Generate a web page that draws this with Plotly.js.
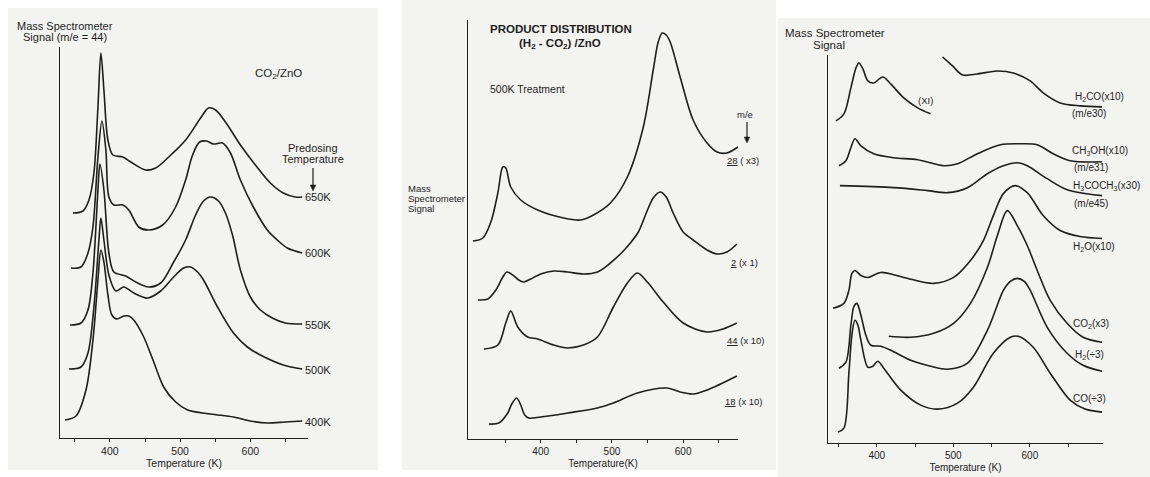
<!DOCTYPE html>
<html>
<head>
<meta charset="utf-8">
<script src="https://cdn.plot.ly/plotly-3.0.1.min.js"></script>
<style>html,body{margin:0;padding:0;background:#fff;}#chart{width:1150px;height:477px;}</style>
</head>
<body>
<div id="chart"></div>
<script>
// ---------- Panel 1: CO2/ZnO, m/e = 44, predosing temperatures ----------
const p1_T_650 = [347.5,361.7,370.2,377.3,383.0,387.2,391.5,397.2,404.3,418.4,429.8,451.1,465.2,483.7,507.8,529.1,540.4,550.4,564.5,585.8,607.1,628.4,646.8,663.8,673.8];
const p1_S_650 = [225,227,238,265,331,385,348,298,283,281,276,268,270,281,298,320,330,328,316,293,273,255,245,241,241];
const p1_T_600 = [344.7,358.9,368.8,375.9,383.0,388.7,394.3,398.6,405.7,418.4,426.9,441.1,455.3,475.2,493.6,507.8,517.7,527.7,537.6,547.5,560.3,571.6,585.8,604.2,624.1,638.3,652.5,673.8];
const p1_S_600 = [170,171,185,211,281,317,288,241,233,233,228,211,208,213,231,258,283,296,297,294,295,285,258,231,208,198,190,185];
const p1_T_550 = [343.3,358.9,368.8,375.9,383.0,385.8,391.5,398.6,405.7,422.7,436.9,455.3,472.3,490.8,507.8,522.0,533.3,543.3,554.6,564.5,574.5,585.8,600.0,614.2,631.2,649.6,673.8];
const p1_S_550 = [113,115,128,165,248,274,248,185,166,162,156,151,155,176,198,223,237,241,237,225,203,168,141,128,120,115,114];
const p1_T_500 = [341.8,358.9,368.8,377.3,384.4,387.2,391.5,398.6,408.5,419.9,434.0,453.9,472.3,490.8,505.0,514.9,524.8,533.3,553.2,575.9,595.7,614.2,646.8,673.8];
const p1_S_500 = [69,71,85,131,198,220,198,163,147,151,145,140,147,161,170,171,166,158,131,105,91,83,73,69];
const p1_T_400 = [336.2,351.8,366.0,375.9,383.0,387.2,391.5,397.2,402.8,409.9,419.9,426.9,434.0,448.2,462.4,476.6,493.6,510.6,543.3,575.9,600.0,624.1,649.6,673.8];
const p1_S_400 = [18,22,48,98,158,188,176,143,123,119,122,122,118,101,76,51,36,28,24,21,17,15,16,17];
const p1_labels = ['650K','600K','550K','500K','400K'];

// ---------- Panel 2: product distribution (H2-CO2)/ZnO ----------
const p2_T_28 = [304.9,318.9,330.1,339.9,346.9,351.0,358.0,372.0,395.8,432.2,455.9,474.1,497.9,521.7,544.1,558.0,565.0,570.6,576.2,581.8,595.8,614.0,633.6,647.6,661.5,676.9];
const p2_S_28 = [198,201,217,246,272,271,252,239,229,221,219,224,236,262,312,369,397,406,404,397,362,319,296,287,286,292];
const p2_T_2 = [311.9,325.9,337.1,346.9,352.4,360.8,369.2,376.2,386.0,400.0,418.2,437.8,460.1,479.7,497.9,514.7,525.9,537.1,548.3,558.0,567.8,576.2,586.0,600.0,614.0,633.6,647.6,661.5,675.5];
const p2_S_2 = [139,140,149,162,167,164,159,157,160,165,168,167,165,167,176,187,196,207,226,241,247,242,226,207,199,189,185,187,195];
const p2_T_44 = [320.3,339.9,351.0,358.0,367.8,381.8,395.8,418.2,437.8,460.1,479.7,502.1,521.7,535.7,549.7,572.0,600.0,633.6,655.9,675.5];
const p2_S_44 = [90,94,116,128,112,102,100,94,91,94,102,132,156,166,157,137,116,107,110,116];
const p2_T_18 = [327.3,341.3,353.8,359.4,366.4,372.0,377.6,383.2,400.0,437.8,479.7,502.1,535.7,577.6,595.8,614.0,633.6,675.5];
const p2_S_18 = [15,16,26,35,41,34,24,21,22,26,31,36,46,51,47,45,49,63];

// ---------- Panel 3: individual products ----------
const p3_T_H2COa = [346.6,357.0,366.1,372.7,376.6,381.8,388.3,396.1,407.8,418.2,435.2,453.4,470.3];
const p3_S_H2COa = [323,330,356,376,381,375,363,361,367,360,346,336,330];
const p3_T_H2COb = [485.9,499.0,512.0,531.5,557.6,578.4,600.5,617.4,639.6,665.6,694.3];
const p3_S_H2COb = [387,378,369,370,373,371,363,351,341,338,337];
const p3_T_CH3OH = [350.5,359.6,366.1,371.4,379.2,396.1,422.1,453.4,487.2,505.5,531.5,561.5,587.5,609.6,630.5,652.6,694.3];
const p3_S_CH3OH = [278,283,296,305,298,290,286,284,278,280,290,299,300,299,290,283,282];
const p3_T_DME = [351.8,422.1,466.4,492.4,518.5,544.5,565.4,583.6,596.6,622.7,648.7,694.3];
const p3_S_DME = [258,256,253,251,256,270,278,281,278,265,254,248];
const p3_T_H2O = [342.7,357.0,363.5,367.4,371.4,379.2,388.3,405.2,435.2,474.2,500.3,522.4,539.3,552.3,565.4,581.0,596.6,617.4,639.6,665.6,694.3];
const p3_S_H2O = [135,140,153,170,173,168,166,171,166,160,166,183,203,228,250,258,251,228,213,207,205];
const p3_T_CO2 = [415.6,444.3,474.2,500.3,522.4,544.5,557.6,570.6,583.6,596.6,609.6,626.6,648.7,669.5,694.3];
const p3_S_CO2 = [107,106,110,120,140,176,208,233,218,198,173,143,120,106,101];
const p3_T_H2 = [350.5,359.6,366.1,370.1,374.0,379.2,385.7,392.2,405.2,418.2,444.3,470.3,492.4,518.5,544.5,565.4,574.5,583.6,592.7,600.5,622.7,648.7,669.5,694.3];
const p3_S_H2 = [75,81,118,137,140,128,108,98,97,93,83,77,74,80,113,153,162,165,162,153,116,90,78,72];
const p3_T_CO = [349.2,357.0,363.5,367.4,371.4,375.3,379.2,388.3,394.8,401.3,409.1,431.3,457.3,479.4,505.5,526.3,552.3,574.5,584.9,604.4,626.6,652.6,672.1,694.3];
const p3_S_CO = [11,15,70,108,123,118,103,76,77,82,75,53,38,34,40,56,90,106,107,96,70,43,34,31];

const majorTicks = [400,500,600];
const majorText = ['400','500','600'];
const minorTicks = [350,450,550,650];

// ---------- layout helpers ----------
const W = 1150, H = 477;
const FONT = '"Liberation Sans", Arial, Helvetica, sans-serif';
const INK = '#1e1e1e';
function fx(px){ return px / W; }
function fy(py){ return 1 - py / H; }
function note(x, y, text, opts) {
  opts = opts || {};
  const xa = opts.xanchor || 'left';
  return {
    xref: 'paper', yref: 'paper', x: fx(xa === 'left' ? x - 2 : x), y: fy(y), text: text,
    showarrow: false, xanchor: xa, yanchor: 'middle',
    align: opts.align || 'left',
    font: {family: FONT, size: opts.size || 11, color: INK, weight: opts.weight || 'normal'}
  };
}
function arrowShapes(x, yTail, yHead) {
  return [
    {type: 'line', xref: 'paper', yref: 'paper', x0: fx(x), x1: fx(x), y0: fy(yTail), y1: fy(yHead - 4),
     line: {color: INK, width: 1.2}},
    {type: 'path', xref: 'paper', yref: 'paper',
     path: 'M ' + fx(x - 2.8) + ',' + fy(yHead - 6) + ' L ' + fx(x + 2.8) + ',' + fy(yHead - 6) + ' L ' + fx(x) + ',' + fy(yHead) + ' Z',
     fillcolor: INK, line: {color: INK, width: 0.5}}
  ];
}
function line(xs, ys, xa, ya, name) {
  return {
    type: 'scatter', mode: 'lines', x: xs, y: ys, xaxis: xa, yaxis: ya, name: name,
    line: {color: INK, width: 1.6, shape: 'spline', smoothing: 0.9},
    hoverinfo: 'skip', showlegend: false
  };
}

const traces = [
  line(p1_T_650, p1_S_650, 'x', 'y', p1_labels[0]),
  line(p1_T_600, p1_S_600, 'x', 'y', p1_labels[1]),
  line(p1_T_550, p1_S_550, 'x', 'y', p1_labels[2]),
  line(p1_T_500, p1_S_500, 'x', 'y', p1_labels[3]),
  line(p1_T_400, p1_S_400, 'x', 'y', p1_labels[4]),
  line(p2_T_28, p2_S_28, 'x2', 'y2', '28'),
  line(p2_T_2, p2_S_2, 'x2', 'y2', '2'),
  line(p2_T_44, p2_S_44, 'x2', 'y2', '44'),
  line(p2_T_18, p2_S_18, 'x2', 'y2', '18'),
  line(p3_T_H2COa, p3_S_H2COa, 'x3', 'y3', 'H2CO x1'),
  line(p3_T_H2COb, p3_S_H2COb, 'x3', 'y3', 'H2CO x10'),
  line(p3_T_CH3OH, p3_S_CH3OH, 'x3', 'y3', 'CH3OH'),
  line(p3_T_DME, p3_S_DME, 'x3', 'y3', 'H3COCH3'),
  line(p3_T_H2O, p3_S_H2O, 'x3', 'y3', 'H2O'),
  line(p3_T_CO2, p3_S_CO2, 'x3', 'y3', 'CO2'),
  line(p3_T_H2, p3_S_H2, 'x3', 'y3', 'H2'),
  line(p3_T_CO, p3_S_CO, 'x3', 'y3', 'CO')
];

function xAxis(dom, range, anchor, tfs, title) {
  return {
    domain: [fx(dom[0]), fx(dom[1])], range: range, anchor: anchor,
    showline: true, linecolor: INK, linewidth: 1.3, mirror: false,
    ticks: 'outside', ticklen: 3, tickwidth: 1, tickcolor: INK,
    tickmode: 'array', tickvals: majorTicks, ticktext: majorText,
    minor: {tickmode: 'array', tickvals: minorTicks, ticks: 'outside', ticklen: 3, tickwidth: 1, tickcolor: INK, showgrid: false},
    tickfont: {family: FONT, size: tfs, color: INK},
    showgrid: false, zeroline: false, fixedrange: true,
    title: {text: title, font: {family: FONT, size: tfs, color: INK}, standoff: 3}
  };
}
function yAxis(top, bottom, range, anchor) {
  return {
    domain: [fy(bottom), fy(top)], range: range, anchor: anchor,
    showline: true, linecolor: INK, linewidth: 1.3,
    ticks: '', showticklabels: false, showgrid: false, zeroline: false, fixedrange: true
  };
}

const pageRects = [
  {type: 'rect', xref: 'paper', yref: 'paper', x0: fx(8), x1: fx(378), y0: fy(470), y1: fy(8), fillcolor: '#f3f3f1', line: {width: 0}, layer: 'below'},
  {type: 'rect', xref: 'paper', yref: 'paper', x0: fx(402), x1: fx(776), y0: fy(470), y1: fy(0), fillcolor: '#f3f3f1', line: {width: 0}, layer: 'below'},
  {type: 'rect', xref: 'paper', yref: 'paper', x0: fx(778), x1: fx(1150), y0: fy(477), y1: fy(18), fillcolor: '#f3f3f1', line: {width: 0}, layer: 'below'}
];

const layout = {
  width: W, height: H,
  margin: {l: 0, r: 0, t: 0, b: 0},
  paper_bgcolor: '#ffffff', plot_bgcolor: 'rgba(0,0,0,0)',
  font: {family: FONT, color: INK},
  showlegend: false,
  xaxis: xAxis([60, 308], [329, 682], 'y', 10.5, 'Temperature (K)'),
  yaxis: yAxis(47, 438, [0, 391], 'x'),
  xaxis2: xAxis([468, 738], [298, 677], 'y2', 10, 'Temperature(K)'),
  yaxis2: yAxis(20, 439, [0, 419], 'x2'),
  xaxis3: xAxis([828, 1103], [336.2, 695.6], 'y3', 10, 'Temperature (K)'),
  yaxis3: yAxis(55, 443, [0, 389], 'x3'),
  shapes: pageRects.concat(arrowShapes(313, 168, 191), arrowShapes(747, 122, 143)),
  annotations: [
    // panel 1
    note(65, 26, 'Mass Spectrometer', {xanchor: 'center', size: 11}),
    note(65, 37, 'Signal (m/e = 44)', {xanchor: 'center', size: 11}),
    note(278, 74, 'CO<sub>2</sub>/ZnO', {xanchor: 'center', size: 11.5}),
    note(313, 148, 'Predosing', {xanchor: 'center', size: 11}),
    note(313, 159, 'Temperature', {xanchor: 'center', size: 11}),
    note(305, 197, p1_labels[0]),
    note(305, 253, p1_labels[1]),
    note(305, 325, p1_labels[2]),
    note(305, 370, p1_labels[3]),
    note(305, 422, p1_labels[4]),
    // panel 2
    note(561, 29, 'PRODUCT DISTRIBUTION', {xanchor: 'center', size: 11.5, weight: 'bold'}),
    note(560, 44, '(H<sub>2</sub> - CO<sub>2</sub>) /ZnO', {xanchor: 'center', size: 11.5, weight: 'bold'}),
    note(490, 89, '500K Treatment', {size: 10.5}),
    note(408, 188, 'Mass', {size: 9.5}),
    note(408, 198, 'Spectrometer', {size: 9.5}),
    note(408, 208, 'Signal', {size: 9.5}),
    note(745, 115, 'm/e', {xanchor: 'center', size: 9.5}),
    note(727, 160, '<u>28</u> ( x3)', {size: 9.5}),
    note(731, 262, '<u>2</u> (x 1)', {size: 9.5}),
    note(727, 340, '<u>44</u> (x 10)', {size: 9.5}),
    note(725, 401, '<u>18</u> (x 10)', {size: 9.5}),
    // panel 3
    note(835, 33, 'Mass Spectrometer', {xanchor: 'center', size: 11.5}),
    note(829, 45, 'Signal', {xanchor: 'center', size: 11.5}),
    note(926, 100, '(XI)', {xanchor: 'center', size: 9.5}),
    note(1075, 97, 'H<sub>2</sub>CO(x10)', {size: 10}),
    note(1072, 113, '(m/e30)', {size: 10}),
    note(1072, 151, 'CH<sub>3</sub>OH(x10)', {size: 10}),
    note(1074, 168, '(m/e31)', {size: 10}),
    note(1073, 186, 'H<sub>3</sub>COCH<sub>3</sub>(x30)', {size: 10}),
    note(1074, 203, '(m/e45)', {size: 10}),
    note(1073, 247, 'H<sub>2</sub>O(x10)', {size: 10}),
    note(1073, 324, 'CO<sub>2</sub>(x3)', {size: 10}),
    note(1075, 355, 'H<sub>2</sub>(÷3)', {size: 10}),
    note(1073, 398, 'CO(÷3)', {size: 10})
  ]
};

Plotly.newPlot('chart', traces, layout, {displayModeBar: false, staticPlot: true});
</script>
</body>
</html>
